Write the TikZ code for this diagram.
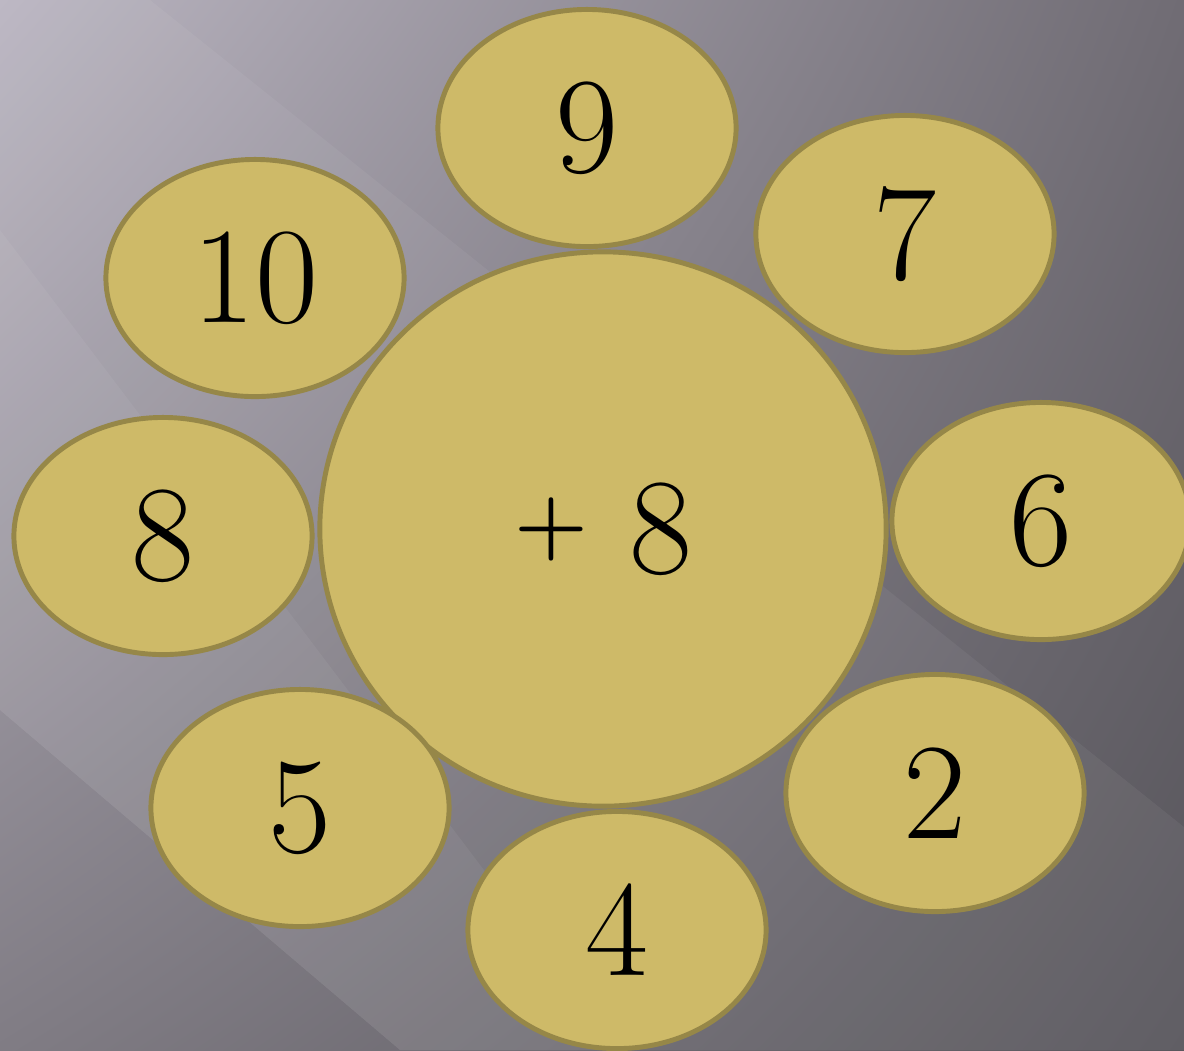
\documentclass[tikz,border=0pt]{standalone}
\usepackage{tikz}
\usetikzlibrary{shapes.geometric,shadings}
\definecolor{goldfill}{RGB}{206,186,104}
\definecolor{goldline}{RGB}{150,135,72}
\definecolor{bgtl}{RGB}{186,181,193}
\definecolor{bgtr}{RGB}{112,108,116}
\definecolor{bgbl}{RGB}{128,124,132}
\definecolor{bgbr}{RGB}{88,86,92}

\begin{document}
\begin{tikzpicture}[x=0.01cm,y=-0.01cm,
  every node/.style={font=\fontsize{39}{44}\selectfont},
  petal/.style={ellipse,draw=goldline,fill=goldfill,line width=1.4pt,
                minimum width=2.98cm,minimum height=2.37cm,inner sep=0pt},
  hub/.style={petal,minimum width=5.66cm,minimum height=5.54cm},
  streak/.style={fill=white,opacity=0.05}]
\useasboundingbox (0,0) rectangle (1184,1050);
% background
\shade[upper left=bgtl,upper right=bgtr,lower left=bgbl,lower right=bgbr]
  (0,0) rectangle (1184,1050);
\fill[streak] (0,0) -- (150,0) -- (1184,827) -- (1184,1050) -- (400,1050) -- (0,710) -- cycle;
\fill[streak] (0,230) -- (0,710) -- (400,1050) -- (620,1050) -- cycle;
% centre and petals
\node[hub] (plus) at (603,529) {\raisebox{6.6pt}{\fontsize{24}{28}\selectfont\bfseries+}\hspace{0.3em}8};
\node[petal] (nine) at (587,128) {9};
\node[petal] (seven) at (905,234) {7};
\node[petal] (ten) at (255,278) {10};
\node[petal] (eight) at (163,536) {8};
\node[petal] (six) at (1041,521) {6};
\node[petal] (five) at (300,808) {5};
\node[petal] (two) at (935,793) {2};
\node[petal] (four) at (617,930) {4};
\end{tikzpicture}
\end{document}
